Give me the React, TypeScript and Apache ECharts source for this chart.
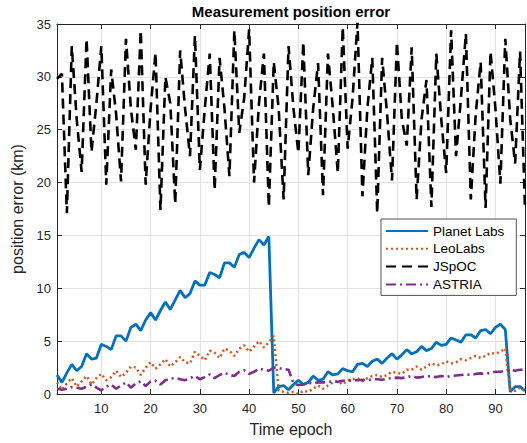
import React, { useEffect, useRef } from "react";
import * as echarts from "echarts";

const xTicks = [10, 20, 30, 40, 50, 60, 70, 80, 90];
const seriesNames = ["Planet Labs", "LeoLabs", "JSpOC", "ASTRIA"];

const planetLabs = [
  1.8, 1.1, 2.0, 2.8, 2.2, 2.6, 3.8, 3.3, 3.4, 4.7,
  4.5, 4.2, 5.5, 5.5, 5.0, 6.3, 6.6, 6.0, 7.0, 7.7,
  7.0, 7.9, 8.7, 8.0, 8.9, 9.8, 9.1, 9.5, 10.7, 10.3,
  10.3, 11.5, 11.3, 11.0, 12.4, 12.4, 12.0, 13.2, 13.4, 12.9,
  13.8, 14.6, 14.1, 14.9, 0.1, 0.7, 0.8, 0.4, 0.9, 1.3,
  0.9, 1.1, 1.7, 1.3, 1.4, 2.1, 1.8, 1.9, 2.4, 2.2,
  2.1, 2.8, 2.9, 2.6, 3.1, 3.3, 2.9, 3.4, 3.8, 3.3,
  3.7, 4.2, 3.8, 4.0, 4.5, 4.1, 4.3, 4.9, 4.6, 4.7,
  5.3, 5.1, 4.9, 5.6, 5.6, 5.3, 6.0, 6.1, 5.7, 6.3,
  6.6, 6.1, 0.2, 0.7, 0.7, 0.3,
];

const leoLabs = [
  1.1, 0.4, 1.0, 1.5, 0.7, 1.2, 1.7, 0.9, 1.5, 1.9,
  1.3, 1.6, 2.2, 1.6, 2.0, 2.6, 2.5, 1.8, 2.5, 3.0,
  2.4, 2.8, 3.3, 2.6, 3.0, 3.5, 3.0, 2.9, 4.0, 3.6,
  3.2, 4.1, 3.9, 3.4, 4.3, 4.1, 3.6, 4.3, 4.6, 4.0,
  4.5, 5.0, 4.4, 4.9, 5.5, 0.3, 0.2, 0.1, 0.2, 0.0,
  0.3, 0.2, 0.5, 0.8, 0.5, 0.8, 1.1, 1.2, 0.9, 1.3,
  1.4, 1.5, 1.2, 1.5, 1.7, 1.8, 1.6, 1.8, 2.1, 2.0,
  1.9, 2.3, 2.3, 2.6, 2.3, 2.6, 2.9, 2.7, 2.8, 3.1,
  2.9, 3.0, 3.3, 3.2, 3.4, 3.6, 3.4, 3.6, 3.9, 3.8,
  4.0, 4.3, 0.4, 0.3, 0.6, 0.4,
];

const jspoc = [
  29.8, 30.3, 17.1, 32.9, 26.0, 21.0, 33.6, 22.9, 27.5, 32.9,
  19.8, 30.7, 26.5, 20.1, 33.6, 27.0, 23.1, 34.4, 19.8, 27.0,
  32.3, 17.4, 30.0, 27.5, 18.0, 32.5, 27.0, 22.5, 33.9, 21.2,
  27.0, 32.2, 19.3, 31.8, 27.0, 20.6, 34.4, 24.7, 28.0, 34.5,
  20.0, 27.5, 32.2, 17.7, 31.4, 27.0, 18.4, 32.9, 27.0, 22.8,
  33.3, 20.7, 27.0, 31.3, 18.8, 32.2, 27.0, 20.9, 34.7, 23.2,
  28.0, 35.2, 18.7, 27.0, 31.8, 17.1, 31.8, 26.5, 20.2, 33.3,
  26.0, 23.5, 32.8, 18.4, 26.0, 29.7, 17.7, 32.2, 26.0, 20.9,
  34.4, 22.5, 28.0, 34.1, 18.4, 26.5, 31.4, 17.6, 32.4, 27.0,
  19.9, 33.6, 26.0, 21.8, 32.4, 17.5,
];

const astria = [
  0.5, 0.4, 0.5, 0.65, 0.6, 0.5, 0.7, 0.9, 0.6, 0.35,
  0.7, 0.9, 0.5, 0.8, 1.1, 0.6, 1.0, 1.2, 0.75, 1.2,
  1.25, 0.9, 1.3, 1.45, 1.5, 1.4, 1.3, 1.5, 1.7, 1.4,
  1.6, 1.85, 1.5, 1.8, 2.0, 1.8, 1.7, 2.1, 2.25, 1.9,
  2.1, 2.4, 2.3, 2.2, 2.5, 2.45, 2.35, 2.3, 1.0, 0.85,
  0.9, 1.05, 1.0, 1.1, 1.1, 1.15, 1.2, 1.15, 1.25, 1.25,
  1.3, 1.3, 1.35, 1.3, 1.4, 1.4, 1.35, 1.45, 1.5, 1.55,
  1.5, 1.6, 1.7, 1.55, 1.6, 1.7, 1.65, 1.6, 1.7, 1.6,
  1.7, 1.75, 1.8, 1.85, 1.8, 1.9, 1.95, 1.9, 2.0, 2.1,
  2.1, 2.2, 2.3, 2.2, 2.3, 2.3,
];

const FONT = "'Liberation Sans', Arial, Helvetica, sans-serif";
const AX = "#262626";

const toPairs = (arr: number[]) => arr.map((v, i) => [i + 1, v]);

export default function App() {
  const ref = useRef<HTMLDivElement>(null);
  useEffect(() => {
    if (!ref.current) return;
    const chart = echarts.init(ref.current, undefined, { renderer: "svg" });
    const axisLine = { show: true, onZero: false, lineStyle: { color: AX, width: 1 } };
    const option: any = {
      animation: false,
      backgroundColor: "#fff",
      textStyle: { fontFamily: FONT },
      grid: { left: 57, right: 2, top: 24, bottom: 49, containLabel: false },
      graphic: [
        {
          type: "text",
          x: 291,
          y: 4,
          style: {
            text: "Measurement position error",
            font: `bold 15px ${FONT}`,
            fill: "#000",
            textAlign: "center",
          },
        },
      ],
      legend: {
        orient: "vertical",
        left: 381,
        top: 219,
        padding: [5, 12, 4, 4],
        itemWidth: 42,
        itemHeight: 14,
        itemGap: 3.8,
        backgroundColor: "#fff",
        borderColor: AX,
        borderWidth: 0.8,
        borderRadius: 0,
        itemStyle: { opacity: 0 },
        textStyle: { fontSize: 13.5, color: "#000", fontFamily: FONT },
        data: seriesNames,
      },
      xAxis: [
        {
          type: "value",
          min: 1,
          max: 96,
          position: "bottom",
          axisLine,
          axisTick: { show: true, inside: true, length: 5, customValues: xTicks, lineStyle: { color: AX } },
          axisLabel: { customValues: xTicks, color: AX, fontSize: 13, margin: 8, fontFamily: FONT },
          splitLine: { show: true, lineStyle: { color: "#e2e2e2", width: 1 } },
          name: "Time epoch",
          nameLocation: "middle",
          nameGap: 27,
          nameTextStyle: { fontSize: 16, color: AX, fontFamily: FONT },
        },
        {
          type: "value",
          min: 1,
          max: 96,
          position: "top",
          axisLine,
          axisTick: { show: true, inside: true, length: 5, customValues: xTicks, lineStyle: { color: AX } },
          axisLabel: { show: false },
          splitLine: { show: false },
        },
      ],
      yAxis: [
        {
          type: "value",
          min: 0,
          max: 35,
          interval: 5,
          position: "left",
          axisLine,
          axisTick: { show: true, inside: true, length: 5, lineStyle: { color: AX } },
          axisLabel: { color: AX, fontSize: 13, margin: 6, fontFamily: FONT },
          splitLine: { show: true, lineStyle: { color: "#e2e2e2", width: 1 } },
          name: "position error (km)",
          nameLocation: "middle",
          nameGap: 26,
          nameTextStyle: { fontSize: 16, color: AX, fontFamily: FONT },
        },
        {
          type: "value",
          min: 0,
          max: 35,
          interval: 5,
          position: "right",
          axisLine,
          axisTick: { show: true, inside: true, length: 5, lineStyle: { color: AX } },
          axisLabel: { show: false },
          splitLine: { show: false },
        },
      ],
      series: [
        {
          name: seriesNames[0],
          type: "line",
          data: toPairs(planetLabs),
          showSymbol: false,
          symbol: "none",
          clip: true,
          lineStyle: { color: "#0072BD", width: 2.8 },
          itemStyle: { color: "#0072BD" },
        },
        {
          name: seriesNames[1],
          type: "line",
          data: toPairs(leoLabs),
          showSymbol: false,
          symbol: "none",
          clip: true,
          lineStyle: { color: "#D95319", width: 2.5, type: [2, 3] },
          itemStyle: { color: "#D95319" },
        },
        {
          name: seriesNames[2],
          type: "line",
          data: toPairs(jspoc),
          showSymbol: false,
          symbol: "none",
          clip: true,
          lineStyle: { color: "#000", width: 2.6, type: [10, 6] },
          itemStyle: { color: "#000" },
        },
        {
          name: seriesNames[3],
          type: "line",
          data: toPairs(astria),
          showSymbol: false,
          symbol: "none",
          clip: true,
          lineStyle: { color: "#7E2F8E", width: 2.6, type: [10, 4, 2, 4] },
          itemStyle: { color: "#7E2F8E" },
        },
      ],
    };
    chart.setOption(option);
    return () => chart.dispose();
  }, []);
  return (
    <div
      ref={ref}
      style={{ position: "fixed", left: 0, top: 0, width: 527, height: 443, background: "#fff" }}
    />
  );
}
